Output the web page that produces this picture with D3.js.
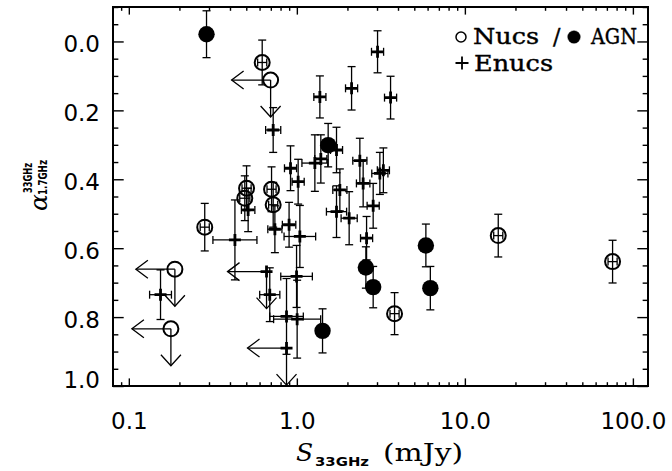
<!DOCTYPE html>
<html><head><meta charset="utf-8">
<script src="https://cdn.jsdelivr.net/npm/d3@7"></script>
<style>body{margin:0;background:#fff}</style>
</head><body><svg id="c" width="672" height="471"></svg>
<script>
// ---- tick labels ----
const xTickValues = [0.1, 1, 10, 100];
const xTickLabels = ["0.1", "1.0", "10.0", "100.0"];
const yTickValues = [0, 0.2, 0.4, 0.6, 0.8, 1.0];
const yTickLabels = ["0.0", "0.2", "0.4", "0.6", "0.8", "1.0"];

// ---- AGN (filled circles): S33 (mJy), alpha, alpha error ----
const agnS     = [0.290, 1.536, 2.575, 2.846, 1.422, 5.86, 6.23];
const agnAlpha = [-0.021, 0.301, 0.656, 0.713, 0.840, 0.592, 0.716];
const agnErr   = [0.068, 0.063, 0.060, 0.060, 0.064, 0.062, 0.063];

// ---- Nucs (open circles) ----
const nucsS     = [0.622, 0.502, 0.490, 0.707, 0.723, 0.283, 3.815, 15.8, 75.7];
const nucsAlpha = [0.061, 0.426, 0.455, 0.429, 0.474, 0.539, 0.790, 0.5635, 0.639];
const nucsErr   = [0.065, 0.065, 0.065, 0.065, 0.065, 0.069, 0.061, 0.062, 0.062];
const nucsErrS  = [0.027, 0.027, 0.03, 0.027, 0.027, 0.027, 0.027, 0.027, 0.027]; // dex
// Nucs limits
const nucsLimS     = [0.698, 0.188, 0.178];
const nucsLimAlpha = [0.112, 0.661, 0.834];

// ---- Enucs (plus) ----
const enucsS     = [0.723, 1.371, 2.117, 3.022, 3.612, 0.917, 1.018, 1.280, 1.389, 1.722,
                    2.371, 2.481, 3.119, 3.273, 1.803, 1.722, 2.048, 2.846, 2.600, 0.513,
                    0.428, 0.740, 0.899, 1.042, 0.996, 0.690, 0.868, 1.004, 0.1544];
const enucsAlpha = [0.257, 0.161, 0.136, 0.030, 0.163, 0.368, 0.407, 0.353, 0.341, 0.315,
                    0.346, 0.412, 0.383, 0.374, 0.431, 0.494, 0.513, 0.477, 0.571, 0.489,
                    0.576, 0.545, 0.532, 0.566, 0.682, 0.735, 0.798, 0.806, 0.735];
const enucsErr   = [0.065, 0.061, 0.063, 0.061, 0.062, 0.065, 0.065, 0.082, 0.070, 0.066,
                    0.065, 0.068, 0.061, 0.065, 0.061, 0.075, 0.077, 0.065, 0.063, 0.063,
                    0.116, 0.068, 0.065, 0.090, 0.090, 0.078, 0.110, 0.113, 0.072];
const enucsErrS  = [0.045, 0.036, 0.036, 0.036, 0.036, 0.036, 0.036, 0.077, 0.036, 0.036,
                    0.042, 0.040, 0.048, 0.036, 0.042, 0.060, 0.048, 0.036, 0.036, 0.040,
                    0.131, 0.042, 0.040, 0.094, 0.094, 0.060, 0.100, 0.140, 0.065]; // dex
// Enucs limits
const enucsLimS     = [0.660, 0.868];
const enucsLimAlpha = [0.668, 0.890];

// ---- layout ----
const W = 672, H = 471;
const L = 113, R = 648, T = 7, B = 386;
const x = d3.scaleLog().domain([0.0805, 123]).range([L, R]);
const y = d3.scaleLinear().domain([-0.1, 1.0]).range([T, B]);

const svg = d3.select("#c");
svg.append("rect").attr("width", W).attr("height", H).attr("fill", "#fff");

const xMinor = x.ticks().filter(v => !xTickValues.some(m => Math.abs(m - v) / m < 1e-6));
const yMinor = d3.range(-0.1, 1.0001, 0.05).map(v => +v.toFixed(2)).filter(v => !yTickValues.includes(v));
const XT = 7.6, YT = 10.7;

function styleAxis(g) {
  g.select(".domain").remove();
  g.selectAll(".tick line").attr("stroke", "#000").attr("stroke-width", 1.4);
  g.selectAll("text").attr("fill", "#000").style("font-family", "DejaVu Sans").style("font-size", "23px");
}
// bottom
svg.append("g").attr("transform", `translate(0,${B})`)
  .call(d3.axisBottom(x).tickValues(xTickValues).tickSizeInner(-XT).tickSizeOuter(0).tickPadding(27)
    .tickFormat((d, i) => xTickLabels[i])).call(styleAxis);
svg.append("g").attr("transform", `translate(0,${B})`)
  .call(d3.axisBottom(x).tickValues(xMinor).tickSizeInner(-XT / 2).tickSizeOuter(0).tickFormat("")).call(styleAxis);
// top
svg.append("g").attr("transform", `translate(0,${T})`)
  .call(d3.axisTop(x).tickValues(xTickValues).tickSizeInner(-XT).tickSizeOuter(0).tickFormat("")).call(styleAxis);
svg.append("g").attr("transform", `translate(0,${T})`)
  .call(d3.axisTop(x).tickValues(xMinor).tickSizeInner(-XT / 2).tickSizeOuter(0).tickFormat("")).call(styleAxis);
// left
svg.append("g").attr("transform", `translate(${L},0)`)
  .call(d3.axisLeft(y).tickValues(yTickValues).tickSizeInner(-YT).tickSizeOuter(0).tickPadding(13)
    .tickFormat((d, i) => yTickLabels[i])).call(styleAxis)
  .selectAll("text").attr("dy", (d) => d === 1.0 ? "0.05em" : "0.45em");
svg.append("g").attr("transform", `translate(${L},0)`)
  .call(d3.axisLeft(y).tickValues(yMinor).tickSizeInner(-YT / 2).tickSizeOuter(0).tickFormat("")).call(styleAxis);
// right
svg.append("g").attr("transform", `translate(${R},0)`)
  .call(d3.axisRight(y).tickValues(yTickValues).tickSizeInner(-YT).tickSizeOuter(0).tickFormat("")).call(styleAxis);
svg.append("g").attr("transform", `translate(${R},0)`)
  .call(d3.axisRight(y).tickValues(yMinor).tickSizeInner(-YT / 2).tickSizeOuter(0).tickFormat("")).call(styleAxis);

// frame
svg.append("rect").attr("x", L).attr("y", T).attr("width", R - L).attr("height", B - T)
  .attr("fill", "none").attr("stroke", "#000").attr("stroke-width", 2);

// ---- marks ----
const plot = svg.append("g");
const CAP = 4;
function vErr(g, sx, a, e) {
  const px = x(sx), y0 = y(a - e), y1 = y(a + e);
  g.append("line").attr("x1", px).attr("x2", px).attr("y1", y0).attr("y2", y1);
  g.append("line").attr("x1", px - CAP).attr("x2", px + CAP).attr("y1", y0).attr("y2", y0);
  g.append("line").attr("x1", px - CAP).attr("x2", px + CAP).attr("y1", y1).attr("y2", y1);
}
function hErr(g, sx, a, dex) {
  const py = y(a), x0 = x(sx / Math.pow(10, dex)), x1 = x(sx * Math.pow(10, dex));
  g.append("line").attr("x1", x0).attr("x2", x1).attr("y1", py).attr("y2", py);
  g.append("line").attr("x1", x0).attr("x2", x0).attr("y1", py - CAP).attr("y2", py + CAP);
  g.append("line").attr("x1", x1).attr("x2", x1).attr("y1", py - CAP).attr("y2", py + CAP);
}
function limitArrows(g, sx, a) {
  const px = x(sx), py = y(a), LEN = 39;
  g.append("line").attr("x1", px).attr("x2", px - LEN).attr("y1", py).attr("y2", py);
  g.append("path").attr("d", `M${px - LEN + 12},${py - 9}L${px - LEN},${py}L${px - LEN + 12},${py + 9}`).attr("fill", "none");
  g.append("line").attr("x1", px).attr("x2", px).attr("y1", py).attr("y2", py + LEN - 2);
  g.append("path").attr("d", `M${px - 10},${py + LEN - 13}L${px},${py + LEN - 2}L${px + 10},${py + LEN - 13}`).attr("fill", "none");
}
const eg = plot.append("g").attr("stroke", "#000").attr("stroke-width", 1.3).attr("fill", "none");
enucsS.forEach((s, i) => { vErr(eg, s, enucsAlpha[i], enucsErr[i]); hErr(eg, s, enucsAlpha[i], enucsErrS[i]); });
nucsS.forEach((s, i) => { vErr(eg, s, nucsAlpha[i], nucsErr[i]); hErr(eg, s, nucsAlpha[i], nucsErrS[i]); });
agnS.forEach((s, i) => { vErr(eg, s, agnAlpha[i], agnErr[i]); });
nucsLimS.forEach((s, i) => limitArrows(eg, s, nucsLimAlpha[i]));
enucsLimS.forEach((s, i) => limitArrows(eg, s, enucsLimAlpha[i]));

// Enucs plus markers
plot.append("g").selectAll("path").data(enucsS.map((s, i) => [s, enucsAlpha[i]]).concat(enucsLimS.map((s, i) => [s, enucsLimAlpha[i]])))
  .join("path").attr("d", d => `M${x(d[0]) - 6},${y(d[1])}h12M${x(d[0])},${y(d[1]) - 6}v12`)
  .attr("stroke", "#000").attr("stroke-width", 2.8).attr("fill", "none");
// Nucs open circles
plot.append("g").selectAll("circle").data(nucsS.map((s, i) => [s, nucsAlpha[i]]).concat(nucsLimS.map((s, i) => [s, nucsLimAlpha[i]])))
  .join("circle").attr("cx", d => x(d[0])).attr("cy", d => y(d[1])).attr("r", 7.5)
  .attr("fill", "none").attr("stroke", "#000").attr("stroke-width", 2);
// AGN filled circles
plot.append("g").selectAll("circle").data(agnS.map((s, i) => [s, agnAlpha[i]]))
  .join("circle").attr("cx", d => x(d[0])).attr("cy", d => y(d[1])).attr("r", 8.2).attr("fill", "#000");

// ---- legend ----
const lg = svg.append("g").style("font-family", "DejaVu Serif").style("font-size", "22px").attr("fill", "#000")
  .attr("stroke", "#000").attr("stroke-width", 0.4);
lg.append("circle").attr("cx", 461).attr("cy", 37).attr("r", 5).attr("fill", "none").attr("stroke", "#000").attr("stroke-width", 1.5);
lg.append("text").attr("x", 473).attr("y", 44).attr("textLength", 66).attr("lengthAdjust", "spacingAndGlyphs").text("Nucs");
lg.append("text").attr("x", 553).attr("y", 44).text("/");
lg.append("circle").attr("cx", 574).attr("cy", 37).attr("r", 6.3).attr("fill", "#000");
lg.append("text").attr("x", 591).attr("y", 44).attr("textLength", 46).attr("lengthAdjust", "spacingAndGlyphs").text("AGN");
lg.append("path").attr("d", "M455.5,63h13M462,56.5v13").attr("stroke", "#000").attr("stroke-width", 1.8);
lg.append("text").attr("x", 474).attr("y", 71).attr("textLength", 79).attr("lengthAdjust", "spacingAndGlyphs").text("Enucs");

// ---- axis titles ----
const xt = svg.append("text").attr("y", 461).attr("fill", "#000");
xt.append("tspan").attr("x", 296).style("font-family", "DejaVu Serif").style("font-style", "italic").style("font-size", "25px").text("S");
xt.append("tspan").attr("x", 315).attr("y", 466).style("font-family", "DejaVu Sans").style("font-weight", "bold").style("font-size", "13px")
  .attr("textLength", 54).attr("lengthAdjust", "spacingAndGlyphs").text("33GHz");
xt.append("tspan").attr("x", 383).attr("y", 461).style("font-family", "DejaVu Serif").style("font-size", "25px")
  .attr("textLength", 80).attr("lengthAdjust", "spacingAndGlyphs").text("(mJy)");

const yt = svg.append("g").attr("transform", "translate(47,211) rotate(-90)").attr("fill", "#000");
yt.append("text").attr("x", 0).attr("y", 0).style("font-family", "DejaVu Serif").style("font-style", "italic").style("font-size", "25px").text("α");
yt.append("text").attr("x", 18).attr("y", -15).style("font-family", "DejaVu Sans").style("font-weight", "bold").style("font-size", "12px")
  .attr("textLength", 30).attr("lengthAdjust", "spacingAndGlyphs").text("33GHz");
yt.append("text").attr("x", 16).attr("y", 0).style("font-family", "DejaVu Sans").style("font-weight", "bold").style("font-size", "12px")
  .attr("textLength", 35).attr("lengthAdjust", "spacingAndGlyphs").text("1.7GHz");
</script>
</body></html>
